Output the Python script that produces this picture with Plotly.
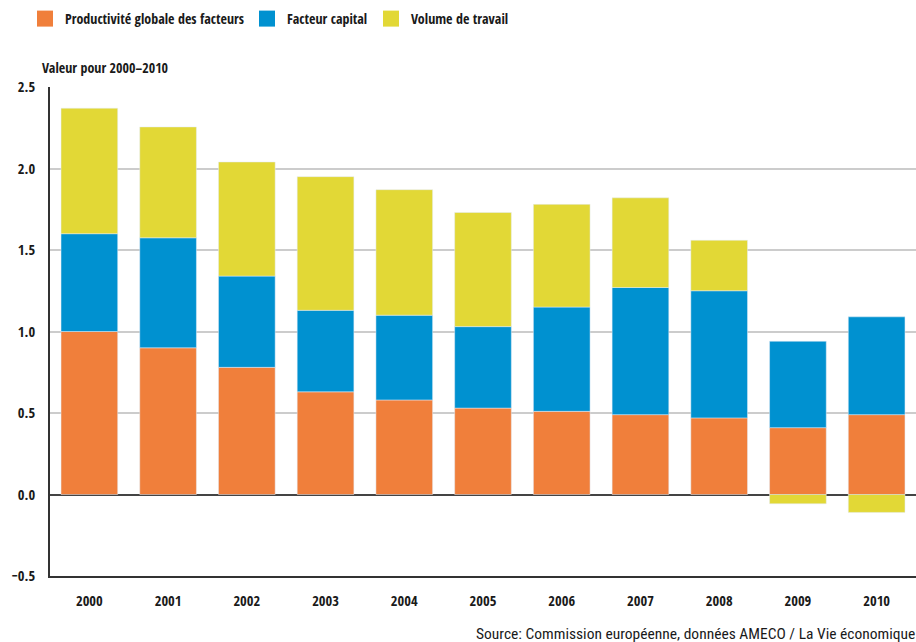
import plotly.graph_objects as go

years = ["2000", "2001", "2002", "2003", "2004", "2005", "2006", "2007", "2008", "2009", "2010"]
productivite = [1.00, 0.90, 0.78, 0.63, 0.58, 0.53, 0.51, 0.49, 0.47, 0.41, 0.49]
capital = [0.60, 0.675, 0.56, 0.50, 0.52, 0.50, 0.64, 0.78, 0.78, 0.53, 0.60]
travail = [0.77, 0.68, 0.70, 0.82, 0.77, 0.70, 0.63, 0.55, 0.31, -0.057, -0.11]

series_names = ["Productivité globale des facteurs", "Facteur capital", "Volume de travail"]
colors = ["#F07F3B", "#0091D0", "#E2D836"]
yticks = [-0.5, 0.0, 0.5, 1.0, 1.5, 2.0, 2.5]
ytick_labels = ["\u22120.5", "0.0", "0.5", "1.0", "1.5", "2.0", "2.5"]

FONT = "Open Sans Condensed, Roboto Condensed, sans-serif"
FONT_REG = "Roboto Condensed, Open Sans Condensed, sans-serif"

fig = go.Figure()

base_blue = productivite
base_yellow = []
for p, c, t in zip(productivite, capital, travail):
    base_yellow.append(p + c if t >= 0 else 0.0)

fig.add_trace(go.Bar(x=years, y=productivite, base=[0]*len(years), marker_color=colors[0],
                     name=series_names[0], showlegend=False))
fig.add_trace(go.Bar(x=years, y=capital, base=base_blue, marker_color=colors[1],
                     name=series_names[1], showlegend=False))
fig.add_trace(go.Bar(x=years, y=travail, base=base_yellow, marker_color=colors[2],
                     name=series_names[2], showlegend=False))

legend_x = [25, 247, 371]
for i, (nm, col) in enumerate(zip(series_names, colors)):
    lg = "legend" if i == 0 else f"legend{i+1}"
    fig.add_trace(go.Scatter(x=[None], y=[None], mode="markers", name=nm,
                             marker=dict(symbol="square", size=16, color=col),
                             legend=lg, showlegend=True))

bold = dict(family=FONT, size=14, color="#1a1a1a", weight="bold")
tickbold = dict(family=FONT, size=14.5, color="#1a1a1a", weight="bold")
regular = dict(family=FONT_REG, size=15.5, color="#1a1a1a")

legend_common = dict(orientation="h", xref="container", yref="container",
                     xanchor="left", yanchor="middle", y=1 - 19/642,
                     font=bold, bgcolor="rgba(0,0,0,0)", borderwidth=0)
fig.update_layout(
    legend=dict(x=legend_x[0]/916, **legend_common),
    legend2=dict(x=legend_x[1]/916, **legend_common),
    legend3=dict(x=legend_x[2]/916, **legend_common),
)

fig.update_layout(
    width=916, height=642,
    margin=dict(l=50, r=0, t=87, b=66),
    paper_bgcolor="white", plot_bgcolor="white",
    barmode="overlay", bargap=0.28,
    font=regular,
    xaxis=dict(showgrid=False, showline=True, linecolor="#333333", linewidth=2,
               tickfont=tickbold, ticks="", ticklabelstandoff=11, fixedrange=True),
    yaxis=dict(range=[-0.5, 2.5], tickvals=yticks, ticktext=ytick_labels,
               showgrid=True, gridcolor="#cccccc", gridwidth=1.5,
               zeroline=True, zerolinecolor="#444444", zerolinewidth=2,
               showline=True, linecolor="#333333", linewidth=2,
               tickfont=tickbold, ticks="", ticklabelstandoff=10, fixedrange=True),
    annotations=[
        dict(text="Valeur pour 2000\u20132010", xref="paper", yref="paper",
             x=-10/866, y=1 + 19/489, xanchor="left", yanchor="middle", showarrow=False,
             font=bold),
        dict(text="Source: Commission européenne, données AMECO / La Vie économique",
             xref="paper", yref="paper", x=(474-50)/866, y=-(634-576)/489, xanchor="left", yanchor="middle",
             showarrow=False, font=regular),
    ],
)

fig.write_html("out.html")
